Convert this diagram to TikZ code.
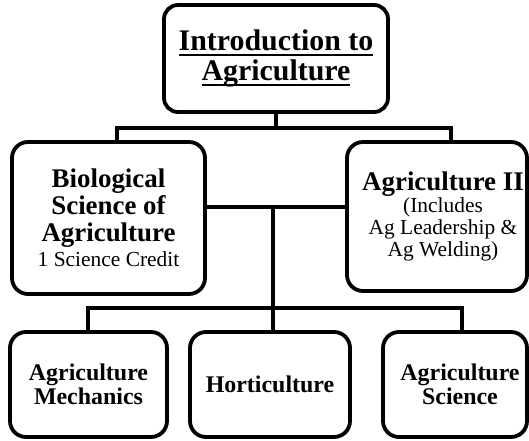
\documentclass[tikz,border=0pt]{standalone}
\usepackage{fontspec}
\setmainfont{Liberation Serif}
\newcommand{\myul}[1]{\setbox0\hbox{#1}\rlap{\rule[-5bp]{\wd0}{2bp}}\box0}
\begin{document}
\begin{tikzpicture}[x=1bp,y=-1bp,
  box/.style={draw, line width=3.8bp, rounded corners=16bp, align=center, inner sep=0pt},
  conn/.style={line width=3.8bp},
  midfont/.style={font=\fontsize{27}{27}\selectfont\bfseries},
  botfont/.style={font=\fontsize{24}{24}\selectfont\bfseries}]
\useasboundingbox (0,0) rectangle (529,441);
% boxes
\node[box, rounded corners=14bp, minimum width=224bp, minimum height=107bp,
      font=\fontsize{30}{30}\selectfont\bfseries] (top) at (276,58.5)
      {\myul{Introduction to}\\\myul{Agriculture}};
\node[box, midfont, minimum width=193bp, minimum height=152bp] (left) at (108.5,218)
      {Biological\\Science of\\Agriculture\\[-2bp]{\fontsize{21.5}{21.5}\selectfont\mdseries 1 Science Credit}};
\node[box, minimum width=180bp, minimum height=149bp,
      label={[align=center, xshift=6bp, font=\fontsize{21.5}{22}\selectfont]center:{{\fontsize{27}{27}\selectfont\bfseries Agriculture II}\\(Includes\\Ag Leadership \&\\Ag Welding)}}] (right) at (437,216.5) {};
\node[box, botfont, minimum width=157bp, minimum height=105bp] (mech) at (88.5,384.5)
      {Agriculture\\Mechanics};
\node[box, botfont, minimum width=160bp, minimum height=105bp] (hort) at (270,384.5)
      {Horticulture};
\node[box, minimum width=144bp, minimum height=105bp,
      label={[align=center, botfont, xshift=5bp]center:{Agriculture\\Science}}] (sci) at (455,384.5) {};
% junction coordinates
\coordinate (b1l) at (117,128);
\coordinate (b1r) at (451,128);
\coordinate (m) at (273,207);
\coordinate (b2l) at (88,308);
\coordinate (b2r) at (462,308);
% connectors
\draw[conn] (top.south) -- (top.south |- b1l);
\draw[conn] (left.north -| b1l) -- (b1l) -- (b1r) -- (right.north -| b1r);
\draw[conn] (left.east |- m) -- (right.west |- m);
\draw[conn] (m) -- (m |- hort.north);
\draw[conn] (mech.north -| b2l) -- (b2l) -- (b2r) -- (sci.north -| b2r);
\end{tikzpicture}
\end{document}
